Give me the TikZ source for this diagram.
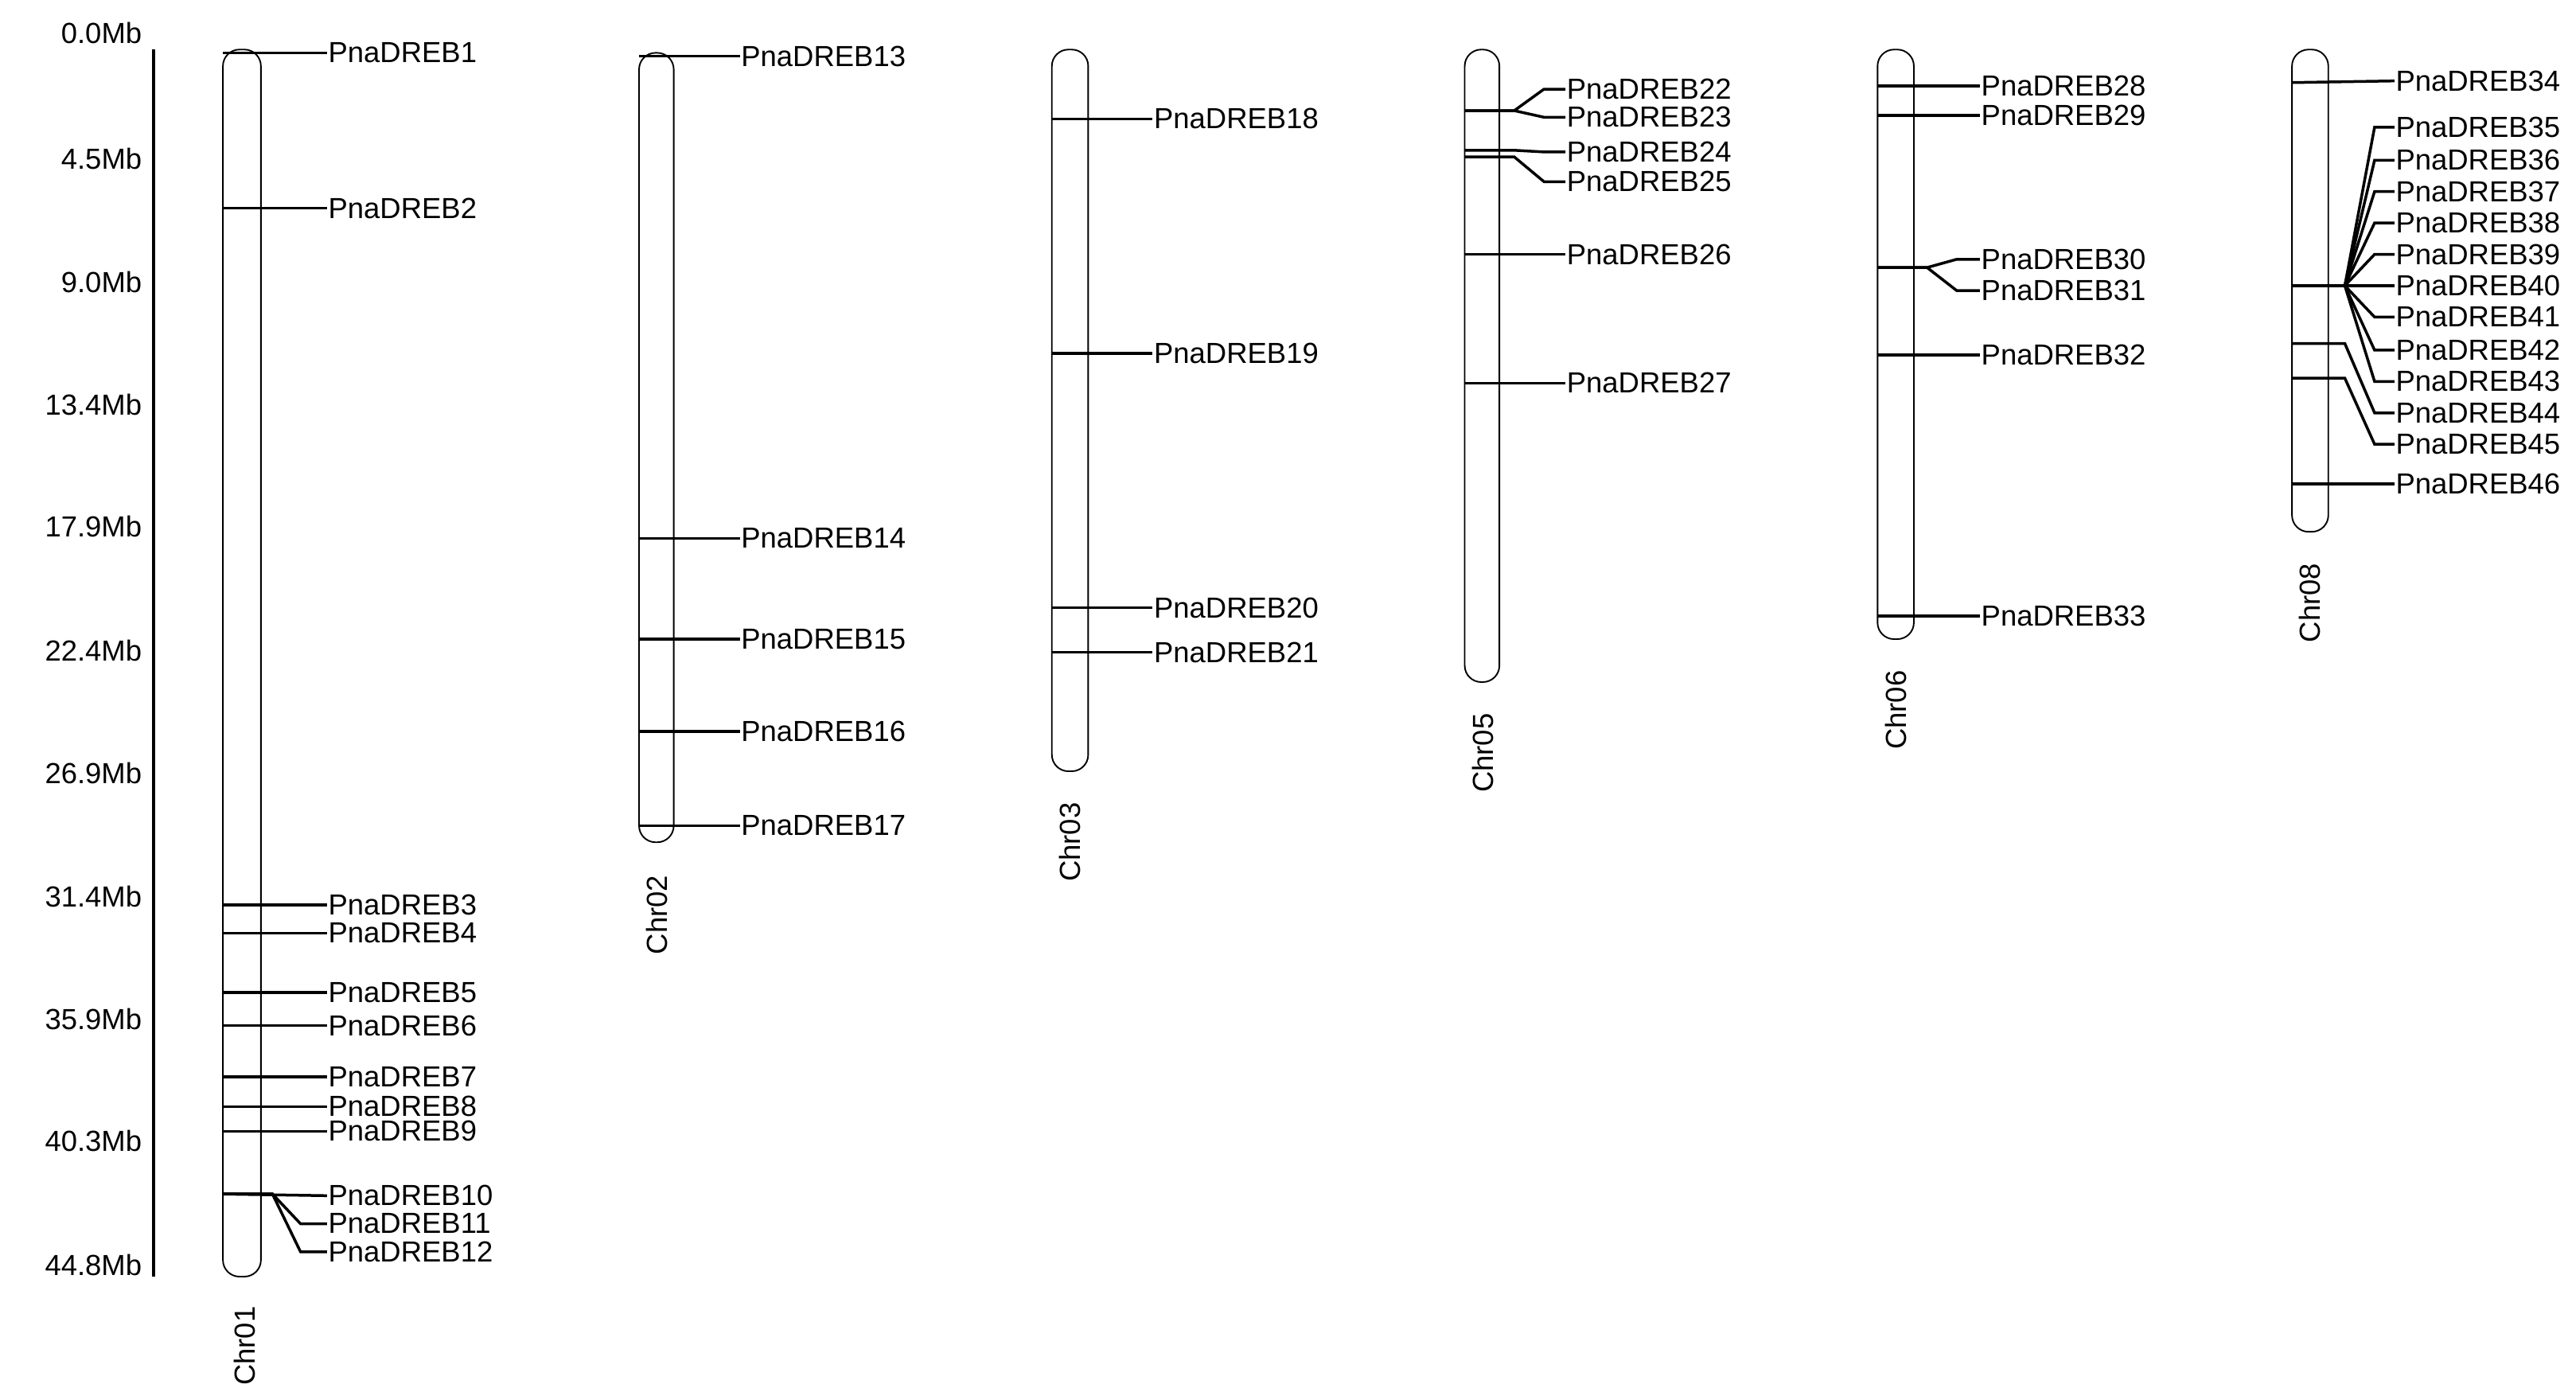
\documentclass[tikz,border=0pt]{standalone}
\usepackage{fontspec}
\setmainfont{Liberation Sans}
\begin{document}
\begin{tikzpicture}[x=0.05cm,y=-0.05cm,
  chrom/.style={draw,line width=1.3pt,rounded corners=0.5cm},
  gl/.style={line width=2.4pt},
  lab/.style={anchor=west,inner sep=1pt,font=\fontsize{25}{28}\selectfont},
  axl/.style={anchor=east,inner sep=0pt,font=\fontsize{25}{28}\selectfont},
  cl/.style={rotate=90,inner sep=0pt,font=\fontsize{25}{28}\selectfont}]
\useasboundingbox[fill=white] (0,0) rectangle (1560,845);
% axis
\draw[line width=2.4pt] (93,30) -- (93,773);
\foreach \t/\y in {0.0/20,4.5/96,9.0/171,13.4/245,17.9/319,22.4/394,26.9/468,31.4/543,35.9/617,40.3/691,44.8/766}
  \node[axl] at (86,\y) {\t Mb};
% chromosomes
\draw[chrom] (135,30) rectangle (158,773);
\draw[chrom] (387,32) rectangle (408,510);
\draw[chrom] (637,30) rectangle (659,467);
\draw[chrom] (887,30) rectangle (908,413);
\draw[chrom] (1137,30) rectangle (1159,387);
\draw[chrom] (1388,30) rectangle (1410,322);
\node[cl] (c1) at (148,815) {Chr01};
\node[cl] (c2) at (398,554) {Chr02};
\node[cl] (c3) at (648,510) {Chr03};
\node[cl] (c5) at (898,456) {Chr05};
\node[cl] (c6) at (1148,430) {Chr06};
\node[cl] (c8) at (1399,365) {Chr08};
% Chr01
\foreach \n/\y in {1/32,2/126,3/548,4/565,5/601,6/621,7/652,8/670,9/685}{
  \node[lab] (g\n) at (198,\y) {PnaDREB\n};
  \draw[gl] (135,\y) -- (193,\y) -- (g\n.west);}
\node[lab] (g10) at (198,724) {PnaDREB10};
\node[lab] (g11) at (198,741) {PnaDREB11};
\node[lab] (g12) at (198,758) {PnaDREB12};
\draw[gl] (135,723) -- (g10.west);
\draw[gl] (135,723) -- (165,723) -- (182,741) -- (g11.west);
\draw[gl] (135,723) -- (165,723) -- (182,758) -- (g12.west);
% Chr02
\foreach \n/\y in {13/34,14/326,15/387,16/443,17/500}{
  \node[lab] (g\n) at (448,\y) {PnaDREB\n};
  \draw[gl] (387,\y) -- (g\n.west);}
% Chr03
\foreach \n/\y in {18/72,19/214,20/368,21/395}{
  \node[lab] (g\n) at (698,\y) {PnaDREB\n};
  \draw[gl] (637,\y) -- (g\n.west);}
% Chr05
\node[lab] (g22) at (948,54) {PnaDREB22};
\node[lab] (g23) at (948,71) {PnaDREB23};
\node[lab] (g24) at (948,92) {PnaDREB24};
\node[lab] (g25) at (948,110) {PnaDREB25};
\node[lab] (g26) at (948,154) {PnaDREB26};
\node[lab] (g27) at (948,232) {PnaDREB27};
\draw[gl] (887,67) -- (917,67) -- (935,54) -- (g22.west);
\draw[gl] (887,67) -- (917,67) -- (935,71) -- (g23.west);
\draw[gl] (887,91) -- (917,91) -- (935,92) -- (g24.west);
\draw[gl] (887,95) -- (917,95) -- (935,110) -- (g25.west);
\draw[gl] (887,154) -- (g26.west);
\draw[gl] (887,232) -- (g27.west);
% Chr06
\foreach \n/\y in {28/52,29/70,32/215,33/373}{
  \node[lab] (g\n) at (1199,\y) {PnaDREB\n};
  \draw[gl] (1137,\y) -- (g\n.west);}
\node[lab] (g30) at (1199,157) {PnaDREB30};
\node[lab] (g31) at (1199,176) {PnaDREB31};
\draw[gl] (1137,162) -- (1167,162) -- (1185,157) -- (g30.west);
\draw[gl] (1137,162) -- (1167,162) -- (1185,176) -- (g31.west);
% Chr08
\node[lab] (g34) at (1450,49) {PnaDREB34};
\draw[gl] (1388,50) -- (g34.west);
\foreach \n/\y in {35/77,36/97,37/116,38/135,39/154,40/173,41/192,42/212,43/231}{
  \node[lab] (g\n) at (1450,\y) {PnaDREB\n};
  \draw[gl] (1388,173) -- (1420,173) -- (1438,\y) -- (g\n.west);}
\node[lab] (g44) at (1450,250) {PnaDREB44};
\node[lab] (g45) at (1450,269) {PnaDREB45};
\node[lab] (g46) at (1450,293) {PnaDREB46};
\draw[gl] (1388,208) -- (1420,208) -- (1438,250) -- (g44.west);
\draw[gl] (1388,229) -- (1420,229) -- (1438,269) -- (g45.west);
\draw[gl] (1388,293) -- (g46.west);
\end{tikzpicture}
\end{document}
